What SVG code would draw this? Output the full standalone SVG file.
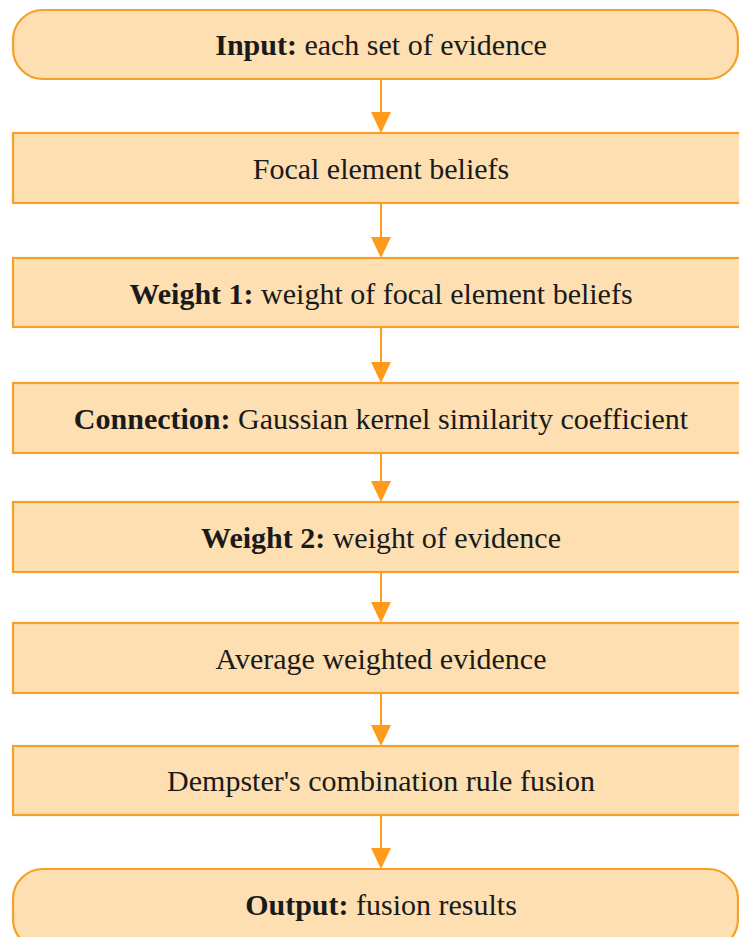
<svg xmlns="http://www.w3.org/2000/svg" width="739" height="937" viewBox="0 0 739 937">
<style>
.box{fill:#FDDFB1;stroke:#F5A02A;stroke-width:2.2}
.t{font-family:"Liberation Serif","Times New Roman",serif;font-size:30px;fill:#1a1a1a;text-anchor:middle}
.b{font-weight:bold}
.c line{stroke:#FF9A1A;stroke-width:2}
.c path{fill:#FF9A1A}
</style>
<rect width="739" height="937" fill="#ffffff"/>
<g id="n1"><rect class="box" x="13" y="10" width="725" height="69" rx="30" ry="30"/><text class="t" x="381" y="55"><tspan class="b">Input:</tspan> each set of evidence</text></g>
<g id="n2"><rect class="box" x="13" y="133" width="745" height="70"/><text class="t" x="381" y="179">Focal element beliefs</text></g>
<g id="n3"><rect class="box" x="13" y="258" width="745" height="69"/><text class="t" x="381" y="304"><tspan class="b">Weight 1:</tspan> weight of focal element beliefs</text></g>
<g id="n4"><rect class="box" x="13" y="383" width="745" height="70"/><text class="t" x="381" y="429"><tspan class="b">Connection:</tspan> Gaussian kernel similarity coefficient</text></g>
<g id="n5"><rect class="box" x="13" y="502" width="745" height="70"/><text class="t" x="381" y="548"><tspan class="b">Weight 2:</tspan> weight of evidence</text></g>
<g id="n6"><rect class="box" x="13" y="623" width="745" height="70"/><text class="t" x="381" y="669">Average weighted evidence</text></g>
<g id="n7"><rect class="box" x="13" y="746" width="745" height="69"/><text class="t" x="381" y="791">Dempster's combination rule fusion</text></g>
<g id="n8"><rect class="box" x="13" y="869" width="725" height="80" rx="30" ry="30"/><text class="t" x="381" y="915"><tspan class="b">Output:</tspan> fusion results</text></g>
<g class="c" id="connectors">
<line x1="381" y1="80" x2="381" y2="114"/><path d="M371,112 L391,112 L381,133 Z"/>
<line x1="381" y1="204" x2="381" y2="239"/><path d="M371,237 L391,237 L381,258 Z"/>
<line x1="381" y1="328" x2="381" y2="364"/><path d="M371,362 L391,362 L381,383 Z"/>
<line x1="381" y1="454" x2="381" y2="483"/><path d="M371,481 L391,481 L381,502 Z"/>
<line x1="381" y1="573" x2="381" y2="604"/><path d="M371,602 L391,602 L381,623 Z"/>
<line x1="381" y1="694" x2="381" y2="727"/><path d="M371,725 L391,725 L381,746 Z"/>
<line x1="381" y1="816" x2="381" y2="850"/><path d="M371,848 L391,848 L381,869 Z"/>
</g>
</svg>
